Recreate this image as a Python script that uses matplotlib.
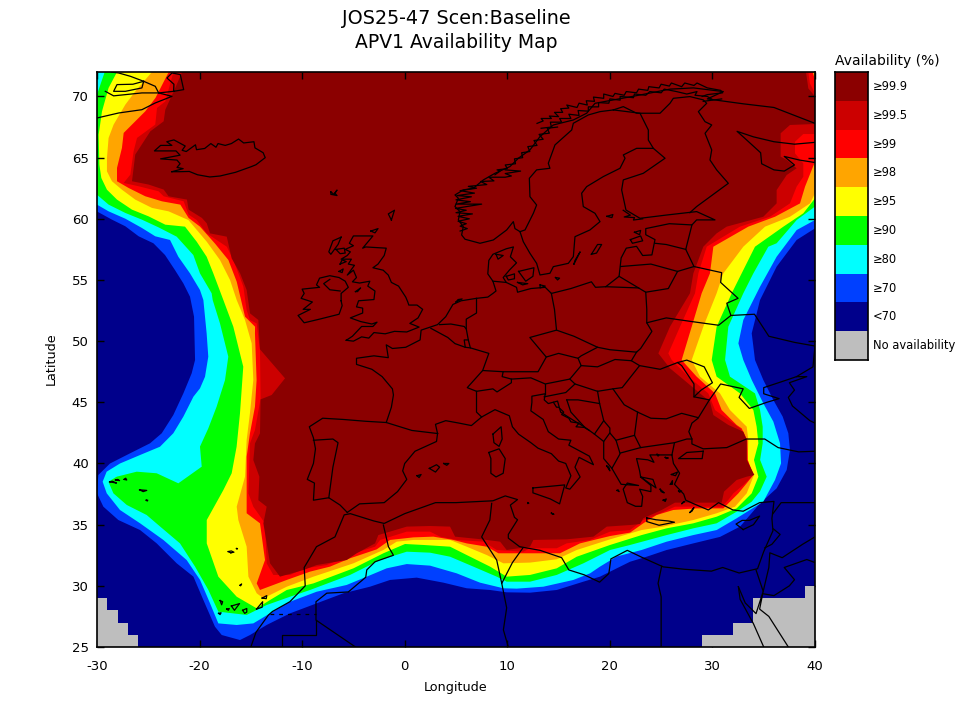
import matplotlib
matplotlib.use('Agg')
import matplotlib.pyplot as plt
from matplotlib.colors import ListedColormap
import numpy as np

plt.rcParams['axes.unicode_minus'] = False

# legend
legend_labels = ['≥99.9', '≥99.5', '≥99', '≥98', '≥95', '≥90', '≥80', '≥70', '<70', 'No availability']
legend_colors = ['#8b0000', '#cc0000', '#ff0000', '#ffa500', '#ffff00', '#00ff00', '#00ffff', '#0040ff', '#00008b', '#bebebe']

x_ticks = [-30, -20, -10, 0, 10, 20, 30, 40]
y_ticks = [25, 30, 35, 40, 45, 50, 55, 60, 65, 70]

# no availability cells, lon edges and top latitude
gray_sw_lon = [-30, -29, -28, -27, -26]
gray_sw_top = [29, 28, 27, 26, 26]
gray_se_lon = [29, 32, 34, 39, 40]
gray_se_top = [26, 27, 29, 30, 30]

bound_70 = [(-30, 60.6), (-28.54, 59.93), (-27.24, 59.39), (-25.94, 58.57), (-24.5, 58.0), (-23.37, 57.04), (-22.39, 55.8),
            (-21.58, 54.72), (-20.93, 53.63), (-20.54, 52.0), (-20.44, 48.46), (-20.77, 47.37), (-21.58, 45.73), (-22.56, 43.96),
            (-23.69, 42.47), (-24.83, 41.65), (-26.78, 40.83), (-28.73, 40.0), (-29.87, 39.06), (-30, 37.56), (-29.38, 36.47),
            (-27.92, 35.38), (-25.8, 34.56), (-24.18, 33.47), (-22.23, 31.84), (-20.6, 30.75), (-19.63, 28.84), (-18.5, 26.66),
            (-17.84, 25.98), (-16.06, 25.57), (-15.08, 25.98), (-13.46, 26.8), (-11.18, 27.75), (-8.58, 28.57), (-5.98, 29.39),
            (-3.38, 29.93), (-1.43, 30.48), (1.17, 30.67), (3.77, 30.26), (6.04, 29.8), (8.32, 29.66), (9.94, 29.47), (12.22, 29.44),
            (14.82, 29.66), (17.42, 30.34), (19.04, 30.75), (21.97, 31.97), (23.59, 32.38), (25.54, 32.93), (28.14, 33.47),
            (30.74, 34.0), (32.69, 34.84), (34.64, 36.74), (36.26, 37.97), (37.24, 39.47), (37.56, 41.1), (37.4, 42.47),
            (36.85, 43.83), (35.94, 45.19), (34.96, 46.83), (34.15, 48.46), (34.0, 49.5), (33.83, 50.64), (34.64, 53.36),
            (36.26, 56.09), (38.21, 58.27), (40, 59.22)]
bound_80 = [(-30, 61.16), (-28.87, 60.61), (-27.24, 60.01), (-25.62, 59.25), (-24.32, 58.57), (-22.88, 58.27), (-22.07, 56.9),
            (-20.93, 55.54), (-19.96, 54.18), (-19.63, 53.36), (-19.31, 50.63), (-19.15, 48.73), (-19.47, 47.09), (-19.96, 46.14),
            (-20.6, 45.46), (-21.58, 43.83), (-22.56, 42.47), (-23.86, 41.37), (-25.81, 40.69), (-27.76, 40.0), (-29.06, 39.33),
            (-29.45, 38.51), (-29.05, 37.56), (-27.76, 36.2), (-25.8, 35.11), (-23.53, 33.75), (-21.26, 32.11), (-19.95, 30.48),
            (-18.98, 28.57), (-18.17, 26.93), (-16.38, 26.8), (-14.76, 26.93), (-13.13, 27.75), (-11.18, 28.7), (-8.58, 29.52),
            (-5.66, 30.07), (-3.7, 30.75), (-1.76, 31.43), (0.2, 31.78), (2.47, 31.65), (5.07, 31.02), (7.34, 30.26), (9.62, 29.8),
            (10.92, 29.77), (13.52, 29.93), (16.44, 30.48), (18.07, 31.02), (19.04, 31.57), (20.67, 32.4), (23.1, 32.93),
            (25.54, 33.61), (28.14, 34.15), (30.41, 34.56), (32.36, 35.52), (34.96, 36.88), (36.1, 38.65), (36.69, 40.01),
            (36.59, 41.65), (35.94, 43.42), (34.96, 44.92), (33.83, 46.83), (33.01, 48.46), (32.53, 49.82), (33.01, 51.73),
            (34.64, 54.45), (36.26, 56.9), (38.21, 59.08), (40, 59.9)]
bound_90 = [(-29.25, 72), (-30, 70.15), (-30, 61.97), (-28.87, 61.16), (-27.24, 60.48), (-25.62, 59.93), (-24, 59.3), (-22.23, 58.54),
            (-20.61, 57.04), (-19.96, 55.54), (-18.82, 53.91), (-18.72, 53.36), (-18.01, 51.45), (-17.2, 48.73), (-17.52, 46.82),
            (-18.34, 44.64), (-19.15, 42.87), (-19.96, 41.38), (-19.79, 39.74), (-22.07, 38.38), (-24.18, 39.2), (-26.13, 39.33),
            (-28.08, 38.92), (-28.89, 38.51), (-28.4, 37.56), (-27.1, 36.61), (-25.16, 35.79), (-24.02, 34.97), (-21.91, 33.47),
            (-20.44, 31.57), (-19.14, 29.66), (-18.17, 27.89), (-15.41, 27.62), (-13.46, 28.43), (-11.18, 29.11), (-9.23, 29.66),
            (-5.33, 30.89), (-2.41, 32.11), (0.2, 32.79), (2.47, 32.71), (4.42, 32.38), (6.69, 31.57), (8.97, 30.75), (9.94, 30.34),
            (12.22, 30.34), (14.82, 30.89), (17.42, 31.84), (20.02, 32.93), (21.97, 33.34), (25.54, 34.15), (28.14, 34.7),
            (30.41, 35.11), (32.36, 36.06), (33.83, 36.88), (34.64, 37.72), (35.29, 38.92), (34.65, 40.29), (34.9, 41.65),
            (34.9, 43.01), (34.64, 44.37), (34.15, 45.73), (31.71, 47.1), (31.23, 48.46), (31.55, 51.18), (33.01, 53.91),
            (33.99, 55.54), (35.45, 57.72), (36.26, 58.0), (38.21, 59.9), (40, 61.0)]
bound_95 = [(-28.05, 72), (-28.87, 70.7), (-29.51, 68.79), (-29.84, 66.88), (-29.77, 64.43), (-29.58, 63.34), (-29.03, 62.38),
            (-28.05, 61.57), (-26.59, 60.75), (-24.97, 60.2), (-23.34, 59.52), (-21.42, 59.36), (-20.28, 58.13), (-19.31, 56.9),
            (-18.66, 55.54), (-17.68, 53.36), (-16.71, 51.18), (-15.74, 47.91), (-16.06, 44.1), (-16.39, 41.37), (-16.87, 39.2),
            (-17.68, 37.83), (-19.3, 35.38), (-19.3, 33.47), (-18.17, 30.75), (-16.38, 29.11), (-14.43, 28.16), (-13.13, 28.84),
            (-11.5, 29.66), (-8.9, 30.2), (-5.0, 31.43), (-2.08, 32.66), (0.03, 33.42), (1.82, 33.34), (4.42, 33.2), (6.04, 32.52),
            (8.32, 31.57), (9.94, 30.75), (12.22, 30.89), (14.82, 31.43), (16.77, 32.38), (20.02, 33.34), (23.1, 34.15),
            (25.54, 34.7), (28.14, 35.11), (30.41, 35.65), (32.36, 36.33), (32.85, 36.74), (33.83, 37.56), (34.48, 38.92),
            (34.05, 40.29), (34.48, 41.65), (34.31, 43.01), (33.99, 44.37), (32.69, 45.73), (30.41, 47.1), (29.93, 48.46),
            (30.41, 51.18), (31.88, 53.91), (32.85, 55.54), (34.15, 57.72), (36.92, 59.36), (38.86, 60.45), (40, 61.67)]
bound_98 = [(-24.64, 72), (-26.27, 70.42), (-27.24, 69.33), (-28.38, 67.7), (-28.87, 66.61), (-29.03, 64.97), (-29.03, 63.88),
            (-28.54, 63.07), (-27.57, 62.38), (-26.27, 61.57), (-24.64, 60.89), (-23.02, 60.61), (-21.09, 59.9), (-19.3, 58.13),
            (-18.01, 56.63), (-17.03, 55), (-16.38, 53.36), (-15.57, 51.73), (-14.92, 49.82), (-14.76, 46.82), (-15.09, 44.1),
            (-15.41, 41.92), (-15.57, 38.92), (-16.38, 36.47), (-16.22, 35.38), (-15.41, 33.2), (-15.24, 30.75), (-14.43, 29.39),
            (-13.78, 28.98), (-11.5, 29.93), (-8.9, 30.75), (-6.96, 31.29), (-5.0, 31.84), (-2.08, 32.93), (-0.78, 33.61),
            (0.84, 33.75), (4.42, 33.75), (6.04, 33.2), (7.99, 32.52), (9.62, 31.84), (12.22, 31.9), (14.82, 32.17), (16.77, 32.93),
            (20.02, 33.8), (23.1, 34.56), (25.21, 34.84), (28.14, 35.38), (30.41, 35.93), (32.2, 36.47), (33.34, 37.56),
            (34.05, 39.06), (33.44, 40.29), (33.5, 41.92), (33.34, 43.01), (31.71, 44.37), (30.74, 45.73), (28.79, 47.1),
            (27.98, 48.46), (29.11, 51.18), (30.41, 53.91), (31.06, 55.54), (33.01, 57.72), (35.13, 59.36), (37.56, 60.17),
            (39.51, 61.26), (40, 62.08), (40, 71.8), (39.9, 72)]
bound_99 = [(-23.01, 72), (-24.3, 69.88), (-25.29, 68.79), (-27.4, 67.02), (-27.57, 65.79), (-28.05, 64.16), (-28.05, 63.07),
            (-26.92, 62.52), (-25.29, 61.84), (-23.67, 61.43), (-21.88, 61.16), (-21.07, 60.07), (-19.96, 59.36), (-18.49, 57.97),
            (-17.19, 56.63), (-16.38, 54.86), (-15.57, 52.0), (-14.59, 51.18), (-14.6, 50.63), (-14.44, 46.82), (-14.6, 44.64),
            (-15.09, 42.46), (-15.41, 40.55), (-15.41, 35.93), (-14.11, 35.11), (-13.62, 32.11), (-14.43, 30.2), (-14.11, 29.66),
            (-11.5, 30.48), (-9.23, 31.16), (-7.28, 31.57), (-5.33, 32.25), (-2.73, 32.98), (-1.43, 33.75), (0.84, 33.96),
            (2.79, 34.02), (4.74, 33.75), (6.04, 33.47), (7.99, 33.2), (9.13, 32.66), (15.14, 32.66), (17.09, 33.47), (20.02, 34.07),
            (21.97, 34.35), (23.26, 35.11), (24.57, 35.79), (26.19, 36.2), (28.46, 36.33), (31.06, 36.33), (32.53, 37.56),
            (33.34, 38.38), (33.99, 39.06), (33.44, 40.29), (33.4, 41.92), (32.85, 42.87), (32.36, 43.15), (30.9, 44.37),
            (30.25, 45.73), (28.46, 47.1), (27.0, 48.46), (27.98, 51.18), (28.95, 53.91), (29.76, 55.54), (30.09, 57.72),
            (33.5, 59.36), (36.1, 60.17), (38.54, 61.26), (39.03, 62.63), (40, 64.67), (40, 71.35), (39.77, 72)]
bound_995 = [(-22.55, 72), (-23.34, 69.6), (-24.15, 69.06), (-24.32, 67.7), (-26.1, 66.61), (-26.43, 65.52), (-26.75, 63.61),
             (-27.4, 62.93), (-25.94, 62.66), (-24.0, 62.25), (-23.5, 61.84), (-21.55, 61.43), (-21.07, 60.34), (-20.28, 59.9),
             (-19.3, 58.81), (-17.35, 57.72), (-16.7, 56.63), (-15.73, 54.45), (-15.41, 52.54), (-15.09, 51.73), (-14.44, 51.45),
             (-14.11, 49.27), (-14.05, 45.3), (-14.6, 42.73), (-15.09, 41.64), (-15.15, 39.74), (-15.24, 37.56), (-14.76, 36.47),
             (-13.62, 35.11), (-13.46, 31.84), (-12.81, 30.89), (-11.18, 30.89), (-9.72, 31.43), (-7.6, 31.7), (-5.0, 32.66),
             (-2.89, 33.2), (-2.4, 33.75), (0.2, 34.43), (2.47, 34.43), (3.45, 34.02), (5.07, 33.75), (7.67, 33.61), (8.97, 32.93),
             (11.57, 32.79), (12.22, 33.07), (14.82, 33.07), (15.79, 33.47), (18.07, 33.75), (20.02, 34.43), (21.97, 34.56),
             (23.26, 35.38), (25.05, 35.98), (26.35, 36.47), (30.9, 36.47), (31.55, 37.02), (32.04, 37.56), (33.01, 38.24),
             (33.99, 39.06), (33.37, 40.29), (33.37, 41.92), (32.69, 42.87), (32.04, 43.28), (30.25, 44.37), (29.6, 45.73),
             (27.65, 47.1), (26.03, 48.46), (25.7, 49.0), (26.84, 51.18), (28.3, 53.91), (28.63, 55.54), (29.44, 57.72),
             (32.69, 59.36), (35.61, 60.17), (37.56, 61.26), (38.21, 62.63), (38.86, 63.44), (38.86, 64.53), (38.05, 65.35),
             (38.05, 66.3), (38.86, 66.93), (40, 66.93), (40, 70.26), (39.5, 71.07), (39.35, 72)]
bound_999 = [(-21.7, 72), (-22.37, 70.7), (-23.34, 68.92), (-23.5, 67.97), (-24.8, 67.15), (-26.27, 65.25), (-26.59, 63.07),
             (-24.97, 62.8), (-23.5, 62.39), (-23.02, 61.84), (-21.23, 61.57), (-21.07, 60.75), (-19.77, 60.07), (-19.3, 59.63),
             (-18.98, 58.81), (-17.35, 58.54), (-16.87, 56.77), (-16.05, 55.54), (-15.41, 54.18), (-15.08, 52.27), (-14.27, 51.73),
             (-14.11, 49.33), (-11.67, 46.96), (-12.97, 45.6), (-14.05, 45.24), (-14.11, 42.46), (-14.6, 41.64), (-14.76, 40.28),
             (-14.17, 38.92), (-14.27, 37.0), (-13.46, 36.47), (-13.78, 35.11), (-13.13, 31.84), (-12.16, 30.75), (-9.88, 31.29),
             (-8.58, 31.7), (-5.66, 32.11), (-4.68, 32.66), (-2.89, 33.47), (-2.57, 34.15), (0.2, 34.84), (2.47, 34.89), (4.42, 34.84),
             (4.91, 34.02), (7.51, 33.8), (9.3, 33.61), (9.94, 32.93), (12.22, 33.2), (12.54, 33.75), (15.79, 33.8), (18.4, 34.02),
             (19.7, 34.84), (21.97, 34.97), (22.94, 35.05), (23.26, 35.52), (25.05, 36.2), (26.35, 36.8), (30.9, 36.8), (31.13, 37.7),
             (32.36, 38.65), (33.34, 38.92), (34.09, 39.06), (33.34, 40.29), (33.34, 41.92), (33.01, 42.6), (31.55, 43.15),
             (30.09, 43.96), (29.76, 45.05), (28.79, 45.73), (26.84, 47.1), (25.86, 47.78), (24.73, 49.0), (25.86, 51.18),
             (27.81, 53.91), (28.14, 55.54), (29.11, 57.72), (30.41, 58.81), (31.39, 59.36), (34.96, 60.17), (36.26, 61.26),
             (36.26, 62.35), (37.24, 63.58), (38.21, 64.13), (37.24, 64.81), (36.65, 65.08), (36.65, 66.99), (37.56, 67.67),
             (40, 67.75), (40, 70.0), (39.35, 70.66), (39.12, 72)]

# coastlines
greenland = [(-30, 68.24), (-27.89, 68.65), (-25.62, 68.92), (-24.32, 69.47), (-22.69, 70.01), (-23.99, 70.29), (-24.32, 70.83), (-25.45, 71.24), (-26.75, 71.65), (-27.89, 71.92), (-28.6, 72)]
greenland_f1 = [(-25.45, 71.24), (-25.62, 70.7), (-27.24, 70.42), (-28.38, 70.42), (-28.05, 70.97), (-26.5, 71.0), (-25.45, 71.24)]
greenland_f2 = [(-29.19, 70.42), (-28.38, 70.05), (-25.62, 70.29), (-23.99, 70.29)]
greenland_e = [(-23.99, 70.29), (-22.53, 70.42), (-21.55, 70.56), (-21.88, 71.79), (-22.69, 71.92), (-23.18, 71.51), (-22.5, 71.0), (-22.53, 70.42)]
iceland = [(-22.7, 63.85), (-22.0, 63.85), (-21.0, 63.87), (-20.2, 63.6), (-19.0, 63.42), (-18.0, 63.5), (-16.5, 63.8), (-15.0, 64.25), (-14.5, 64.42), (-13.6, 65.0), (-13.8, 65.4), (-14.6, 65.8), (-14.7, 66.3), (-15.7, 66.2), (-16.2, 66.52), (-16.9, 66.15), (-17.5, 66.0), (-18.2, 66.15), (-18.4, 65.85), (-18.9, 66.15), (-19.5, 65.75), (-20.3, 65.65), (-20.4, 66.05), (-21.3, 65.5), (-21.7, 65.6), (-21.4, 65.95), (-22.5, 66.45), (-23.2, 66.3), (-22.7, 66.0), (-23.8, 66.0), (-24.4, 65.55), (-22.3, 65.55), (-21.9, 65.2), (-23.8, 64.9), (-22.2, 64.8), (-21.9, 64.5), (-22.2, 64.2), (-21.6, 64.1), (-22.7, 63.85)]
faroe = [(-7.2, 62.2), (-6.9, 62.0), (-6.6, 62.35), (-6.8, 62.1), (-6.6, 61.9), (-7.2, 62.0), (-7.2, 62.2)]
shetland = [(-1.3, 59.9), (-1.0, 60.7), (-1.6, 60.4), (-1.3, 59.9)]
orkney = [(-3.3, 59.0), (-2.6, 59.2), (-2.9, 58.85), (-3.3, 59.0)]
britain = [(-5.7, 50.07), (-5.0, 50.0), (-4.2, 50.35), (-3.5, 50.25), (-3.0, 50.7), (-1.9, 50.6), (-1.0, 50.8), (0.2, 50.75), (1.4, 51.15), (0.5, 51.45), (1.3, 51.9), (1.75, 52.6), (1.2, 52.95), (0.4, 52.95), (0.3, 53.2), (0.1, 53.6), (-0.6, 54.5), (-1.3, 54.8), (-1.6, 55.4), (-2.1, 55.8), (-3.1, 56.0), (-2.6, 56.3), (-2.0, 57.0), (-1.8, 57.6), (-3.8, 57.7), (-4.1, 57.6), (-3.1, 58.6), (-5.0, 58.6), (-5.4, 58.0), (-5.0, 57.8), (-5.8, 57.5), (-5.3, 57.3), (-5.6, 57.0), (-6.2, 56.7), (-5.2, 56.7), (-5.5, 56.3), (-4.9, 56.2), (-5.6, 55.4), (-5.0, 55.8), (-4.7, 55.2), (-5.1, 54.85), (-4.4, 54.75), (-3.4, 54.9), (-3.6, 54.5), (-2.9, 54.1), (-3.0, 53.4), (-4.5, 53.3), (-4.7, 52.8), (-4.1, 52.7), (-4.1, 52.3), (-5.3, 51.9), (-4.3, 51.6), (-3.2, 51.4), (-2.7, 51.55), (-3.1, 51.2), (-4.2, 51.2), (-5.1, 50.4), (-5.7, 50.07)]
ireland = [(-6.2, 53.3), (-6.2, 53.9), (-5.5, 54.4), (-5.8, 54.9), (-6.4, 55.2), (-7.3, 55.35), (-8.3, 55.15), (-8.6, 54.6), (-8.3, 54.4), (-10.0, 54.25), (-9.8, 53.9), (-10.1, 53.5), (-9.0, 53.2), (-9.9, 52.6), (-9.2, 52.6), (-10.4, 52.1), (-9.8, 51.5), (-8.3, 51.8), (-6.4, 52.2), (-6.1, 52.9), (-6.2, 53.3)]
n_ireland = [(-7.3, 55.05), (-7.9, 54.7), (-7.3, 54.2), (-6.3, 54.1)]
lewis = [(-6.2, 58.5), (-7.0, 58.2), (-7.4, 57.3), (-7.2, 57.1), (-6.5, 57.9), (-6.2, 58.5)]
skye = [(-6.7, 57.5), (-5.9, 57.6), (-5.8, 57.2), (-6.3, 57.15), (-6.7, 57.5)]
mull = [(-6.3, 56.3), (-5.7, 56.5), (-6.1, 56.65), (-6.3, 56.3)]
islay = [(-6.4, 55.7), (-6.0, 55.9), (-6.1, 55.6), (-6.4, 55.7)]
man = [(-4.8, 54.05), (-4.3, 54.35), (-4.6, 54.05), (-4.8, 54.05)]
continent_west = [(-5.6, 36.0), (-6.3, 36.6), (-7.4, 37.2), (-8.9, 37.0), (-8.8, 38.4), (-9.5, 38.7), (-8.9, 40.0), (-8.7, 41.2), (-8.9, 42.1), (-9.3, 43.0), (-8.0, 43.7), (-6.0, 43.6), (-3.8, 43.45), (-1.8, 43.35), (-1.3, 44.6), (-1.1, 45.6), (-1.2, 46.1), (-2.2, 47.1), (-3.2, 47.7), (-4.7, 48.1), (-4.7, 48.6), (-3.0, 48.8), (-1.6, 48.65), (-1.8, 49.7), (-1.2, 49.4), (0.1, 49.5), (1.5, 50.1), (1.6, 50.9), (3.2, 51.35), (4.0, 52.0), (4.7, 53.0), (5.5, 53.3), (7.0, 53.5), (8.1, 53.6), (8.6, 53.9), (8.9, 54.1), (8.6, 54.9), (8.1, 55.5), (8.2, 56.6), (8.6, 57.1), (9.9, 57.55), (10.6, 57.7), (10.3, 56.9), (10.9, 56.4), (10.2, 55.8), (9.6, 55.2), (9.9, 54.8), (10.9, 54.4), (11.0, 54.0), (12.3, 54.3), (13.7, 54.4), (14.3, 53.9), (16.2, 54.3), (18.2, 54.85), (18.6, 54.4), (19.6, 54.45), (20.9, 55.3), (21.1, 56.8), (21.6, 57.6), (22.6, 57.75), (23.2, 57.0), (24.1, 57.05), (24.4, 58.3), (23.5, 58.7), (23.5, 59.2), (25.8, 59.6), (28.0, 59.5), (28.46, 59.91), (30.25, 59.91), (28.46, 60.59), (25.54, 60.31), (22.94, 60.04), (21.57, 60.72), (21.15, 62.36), (21.31, 63.18), (23.26, 63.72), (25.38, 64.95), (24.24, 65.76), (22.61, 65.76), (21.31, 65.22), (21.48, 64.95), (20.99, 64.13), (19.36, 63.45), (17.74, 62.63), (17.25, 62.09), (17.41, 61.0), (18.55, 60.45), (19.04, 59.77), (18.06, 59.09), (16.6, 58.54), (16.44, 56.91), (15.95, 56.36), (14.49, 56.09), (14.16, 55.55), (13.19, 55.41), (12.86, 56.36), (12.21, 57.18), (11.56, 58.13), (11.24, 58.95), (10.75, 59.2), (10.59, 59.77), (9.94, 59.09), (8.64, 58.27), (7.34, 58.0), (5.88, 58.33), (5.55, 58.68), (5.71, 59.36), (5.23, 59.91), (5.39, 60.59), (4.9, 61.0), (5.23, 61.68), (4.9, 61.95), (5.71, 62.36), (6.69, 62.5), (7.67, 63.18), (8.8, 63.72), (10.26, 64.27), (11.08, 64.95), (12.21, 65.63), (13.19, 66.72), (14.49, 67.67), (16.44, 68.08), (17.74, 68.63), (18.55, 69.44), (20.34, 69.72), (22.94, 70.12), (25.86, 70.6), (28.14, 70.7), (31.06, 70.4), (29.5, 69.8), (33.0, 69.4), (36.0, 69.1), (40, 67.8)]
norway_west_spikes = [(5.4, 59.0), (6.1, 59.2), (5.4, 59.4), (6.0, 59.6), (5.2, 59.8), (6.3, 60.0), (5.2, 60.2), (6.6, 60.4), (5.0, 60.5), (6.0, 60.7), (4.95, 60.85), (7.5, 61.2), (5.0, 61.2), (6.4, 61.4), (5.0, 61.55), (6.5, 61.8), (5.1, 61.9), (6.8, 62.1), (5.4, 62.3), (7.0, 62.5), (6.2, 62.65), (8.0, 62.8), (7.4, 63.05), (8.7, 63.1), (8.2, 63.4), (9.8, 63.4), (10.4, 63.5), (9.8, 63.7), (11.3, 63.9), (9.8, 64.0)]
norway_mid_spikes = [(8.8, 63.6), (9.3, 63.9), (9.0, 64.0), (10.0, 64.1), (9.8, 64.4), (10.8, 64.5), (10.7, 64.9), (11.5, 65.0), (11.4, 65.4), (12.2, 65.5), (12.0, 65.9), (12.9, 66.0), (12.6, 66.4), (13.5, 66.5), (13.1, 66.9), (14.1, 67.0), (13.9, 67.4), (14.9, 67.5)]
norway_outer = [(12.9, 67.8), (13.5, 68.0), (13.3, 68.2), (14.3, 68.2), (14.1, 68.4), (15.0, 68.35), (14.6, 68.7), (15.4, 68.7), (15.2, 69.0), (16.0, 69.05), (15.8, 69.3), (16.8, 69.1), (17.0, 69.45), (17.8, 69.3), (17.7, 69.65), (18.5, 69.6), (18.4, 69.95), (19.4, 69.85), (19.4, 70.2), (20.3, 70.0), (20.5, 70.25), (21.4, 70.1), (21.6, 70.4), (22.6, 70.3), (22.8, 70.6), (23.7, 70.5), (23.8, 70.8), (24.8, 70.7), (25.0, 71.0), (25.8, 70.85), (26.0, 71.1), (27.0, 70.8), (27.3, 71.1), (28.2, 70.9), (28.5, 71.1), (29.5, 70.7), (30.8, 70.5), (31.0, 70.3), (29.5, 70.15), (29.0, 70.0)]
norway_inner = [(13.3, 67.4), (14.3, 67.5), (14.2, 67.9), (15.3, 67.9), (15.1, 68.2), (16.2, 68.2), (16.0, 68.55), (17.0, 68.45), (16.9, 68.85), (17.9, 68.8), (17.9, 69.15), (18.9, 69.15), (18.9, 69.5), (19.9, 69.45), (20.0, 69.8), (21.0, 69.7), (21.0, 70.0), (22.3, 69.9), (22.4, 70.2), (23.5, 70.1), (23.9, 70.4), (25.0, 70.3), (25.3, 70.6), (26.5, 70.4), (27.5, 70.2), (28.5, 70.4), (28.3, 70.1), (29.5, 70.0), (30.0, 69.75)]
finland_skerries = [(21.3, 60.7), (22.0, 60.3), (21.4, 60.15), (22.4, 60.1), (22.3, 59.9), (23.2, 60.0)]
dalmatia_spikes = [(14.5, 45.0), (14.8, 44.6), (15.0, 44.6), (15.5, 44.2), (15.3, 44.0), (16.0, 43.7), (16.2, 43.4), (17.0, 43.3), (16.7, 43.0), (17.5, 42.95), (18.0, 42.7)]
kola_south = [(40, 66.25), (38.0, 66.1), (36.0, 66.3), (34.0, 66.7), (32.4, 67.15), (33.0, 66.7), (34.7, 65.4), (34.8, 64.5), (36.0, 64.0), (37.0, 63.9), (38.0, 64.4), (37.0, 65.1), (38.5, 64.8), (40, 64.6)]
turkey_coast = [(40, 41.0), (38.4, 40.95), (36.4, 41.3), (35.1, 42.0), (33.3, 42.0), (31.4, 41.3), (29.1, 41.2), (28.0, 41.6), (28.0, 42.0), (27.7, 42.6), (28.0, 43.3), (28.6, 43.7), (29.7, 45.2), (30.8, 46.5), (33.0, 46.1), (32.6, 45.4), (33.6, 44.5), (35.3, 45.0), (36.5, 45.3), (35.0, 45.7), (35.0, 46.2), (36.8, 46.7), (38.2, 47.1), (39.2, 47.1), (37.5, 46.6), (38.0, 46.0), (37.4, 45.4), (37.8, 44.7), (39.5, 43.5), (40, 43.3)]
marmara = [(29.1, 41.0), (27.5, 40.9), (26.7, 40.4), (29.0, 40.4), (29.1, 41.0)]
africa = [(-15.0, 25.0), (-14.5, 26.2), (-13.3, 27.6), (-12.9, 27.9), (-11.2, 28.7), (-9.7, 30.0), (-9.8, 31.5), (-8.6, 33.2), (-6.8, 34.0), (-5.9, 35.8), (-5.3, 35.9), (-3.0, 35.3), (-2.0, 35.1), (0.0, 35.9), (3.0, 36.8), (5.0, 36.8), (8.6, 36.95), (9.8, 37.35), (11.0, 37.05), (10.3, 36.6), (10.7, 35.6), (11.0, 35.4), (10.1, 34.2), (10.1, 33.9), (11.2, 33.2), (13.2, 32.9), (15.3, 32.3), (16.0, 31.3), (17.5, 30.9), (19.0, 30.3), (19.9, 31.0), (20.1, 32.2), (21.7, 32.9), (23.2, 32.3), (25.2, 31.55), (27.3, 31.35), (29.9, 31.2), (31.0, 31.5), (32.6, 31.05), (34.4, 31.4), (35.0, 32.8), (35.9, 34.5), (35.8, 35.5), (36.0, 36.9), (34.6, 36.8), (33.0, 36.1), (32.0, 36.2), (30.6, 36.8), (29.6, 36.2), (28.2, 36.7), (27.4, 37.0), (27.2, 37.5), (26.3, 38.3), (26.8, 39.2), (26.2, 40.0), (26.05, 40.7)]
med_north = [(3.2, 42.45), (3.0, 43.2), (4.0, 43.5), (5.3, 43.3), (6.5, 43.1), (7.5, 43.8), (8.8, 44.4), (10.2, 43.9), (10.5, 43.0), (11.1, 42.4), (12.3, 41.7), (13.0, 41.25), (14.3, 40.8), (15.0, 40.2), (15.7, 40.0), (16.2, 39.0), (15.7, 38.0), (16.1, 37.9), (17.1, 38.9), (16.6, 39.7), (17.0, 40.5), (18.4, 39.9), (18.0, 40.6), (16.0, 41.5), (16.2, 41.9), (15.0, 42.0), (14.0, 42.6), (13.5, 43.6), (12.3, 44.3), (12.4, 45.0), (12.4, 45.5), (13.7, 45.7), (13.6, 45.2), (14.0, 44.9), (14.9, 45.1), (15.2, 44.2), (16.5, 43.5), (17.5, 43.0), (18.5, 42.4), (19.4, 41.8), (19.4, 40.4), (20.2, 39.6), (21.1, 38.3), (22.8, 38.2), (21.7, 38.4), (21.3, 37.9), (21.7, 36.8), (22.5, 36.5), (23.1, 36.5), (23.2, 37.3), (22.9, 37.9), (24.0, 37.7), (24.0, 38.2), (23.0, 38.9), (22.9, 39.4), (22.6, 40.4), (23.7, 40.3), (24.3, 40.1), (23.9, 40.7), (26.05, 40.7)]
spain_east = [(3.2, 42.45), (3.1, 41.8), (1.0, 41.0), (0.0, 40.0), (-0.2, 39.4), (0.2, 38.7), (-0.7, 37.7), (-2.0, 36.8), (-4.4, 36.7), (-5.6, 36.0)]
islands = [[(23.6, 35.55), (24.5, 35.4), (25.7, 35.3), (26.3, 35.2), (24.8, 34.95), (23.6, 35.25), (23.6, 35.55)],
           [(27.8, 36.0), (28.2, 36.4), (28.0, 36.1), (27.8, 36.0)], [(26.0, 39.1), (26.6, 39.3), (26.4, 39.0), (26.0, 39.1)], [(25.9, 38.3), (26.1, 38.6), (26.1, 38.3), (25.9, 38.3)],
           [(23.0, 38.9), (24.5, 38.0), (24.2, 38.7), (23.0, 38.9)], [(20.7, 37.8), (20.9, 37.7), (20.8, 37.85), (20.7, 37.8)], [(19.7, 39.8), (20.0, 39.4), (19.9, 39.7), (19.7, 39.8)],
           [(25.2, 37.0), (25.5, 37.1), (25.4, 36.9), (25.2, 37.0)], [(24.9, 37.9), (25.3, 37.6), (25.0, 37.7), (24.9, 37.9)], [(27.1, 36.8), (27.3, 36.9), (27.0, 36.7), (27.1, 36.8)],
           [(25.4, 40.5), (25.7, 40.45), (25.5, 40.4), (25.4, 40.5)], [(24.6, 40.75), (24.8, 40.7), (24.7, 40.6), (24.6, 40.75)], [(26.7, 37.75), (27.0, 37.75), (26.8, 37.65), (26.7, 37.75)],
           [(12.5, 38.0), (15.6, 38.25), (15.1, 36.7), (14.2, 37.1), (12.5, 37.6), (12.5, 38.0)], [(8.2, 40.9), (9.2, 41.2), (9.8, 40.4), (9.6, 39.2), (8.9, 38.9), (8.4, 39.2), (8.4, 40.4), (8.2, 40.9)],
           [(8.6, 42.4), (9.4, 43.0), (9.5, 42.0), (9.2, 41.4), (8.7, 41.7), (8.6, 42.4)], [(2.4, 39.6), (3.1, 39.9), (3.4, 39.7), (3.0, 39.3), (2.4, 39.6)], [(3.8, 40.0), (4.3, 40.0), (4.1, 39.85), (3.8, 40.0)],
           [(1.2, 39.0), (1.6, 39.1), (1.4, 38.85), (1.2, 39.0)], [(14.3, 35.95), (14.55, 35.85), (14.4, 35.85), (14.3, 35.95)], [(12.0, 36.8), (12.1, 36.75), (12.0, 36.72), (12.0, 36.8)],
           [(33.0, 34.6), (34.0, 35.0), (34.6, 35.7), (33.6, 35.35), (32.9, 35.35), (32.3, 35.05), (33.0, 34.6)],
           [(-28.75, 38.5), (-28.1, 38.4), (-28.5, 38.55), (-28.75, 38.5)], [(-28.2, 38.65), (-27.8, 38.6), (-28.0, 38.7), (-28.2, 38.65)], [(-27.35, 38.7), (-27.1, 38.65), (-27.2, 38.8), (-27.35, 38.7)],
           [(-25.85, 37.85), (-25.15, 37.8), (-25.5, 37.7), (-25.85, 37.85)], [(-25.2, 37.0), (-25.05, 37.0), (-25.1, 36.93), (-25.2, 37.0)],
           [(-16.95, 32.7), (-16.65, 32.75), (-16.9, 32.85), (-17.25, 32.8), (-16.95, 32.7)], [(-16.4, 33.05), (-16.3, 33.05), (-16.35, 33.0), (-16.4, 33.05)], [(-16.05, 30.05), (-15.9, 30.15), (-16.0, 30.0), (-16.05, 30.05)],
           [(-16.9, 28.35), (-16.1, 28.55), (-16.6, 28.0), (-16.9, 28.35)], [(-15.8, 28.0), (-15.4, 28.15), (-15.4, 27.85), (-15.6, 27.75), (-15.8, 28.0)], [(-18.0, 28.8), (-17.75, 28.7), (-17.85, 28.45), (-18.0, 28.8)],
           [(-18.15, 27.75), (-17.9, 27.8), (-18.0, 27.65), (-18.15, 27.75)], [(-17.35, 28.1), (-17.1, 28.15), (-17.2, 28.0), (-17.35, 28.1)], [(-13.9, 29.0), (-13.45, 29.2), (-13.5, 28.95), (-13.9, 29.0)],
           [(-14.45, 28.1), (-13.85, 28.7), (-13.9, 28.25), (-14.45, 28.1)],
           [(18.2, 57.1), (18.8, 57.9), (19.2, 57.9), (18.7, 57.2), (18.2, 57.1)], [(16.5, 56.3), (17.1, 57.3), (16.6, 56.6), (16.5, 56.3)], [(22.0, 58.3), (23.0, 58.6), (23.2, 58.2), (22.2, 58.0), (22.0, 58.3)],
           [(22.4, 58.9), (23.0, 59.05), (22.9, 58.7), (22.4, 58.9)], [(19.7, 60.2), (20.3, 60.35), (20.2, 60.1), (19.7, 60.2)], [(14.7, 55.2), (15.1, 55.15), (14.9, 55.0), (14.7, 55.2)],
           [(11.1, 55.7), (12.6, 56.0), (12.5, 55.3), (11.8, 54.9), (11.1, 55.7)], [(9.9, 55.3), (10.7, 55.5), (10.7, 55.1), (10.1, 55.0), (9.9, 55.3)], [(11.0, 54.8), (12.0, 54.7), (11.5, 54.6), (11.0, 54.8)],
           [(8.9, 57.1), (9.6, 57.0), (9.1, 56.7), (8.9, 57.1)], [(13.2, 54.6), (13.7, 54.5), (13.2, 54.35), (13.2, 54.6)], [(5.0, 53.2), (5.6, 53.45), (5.2, 53.4), (5.0, 53.2)]]

# borders
borders = [[(-1.8, 43.35), (0.7, 42.7), (3.2, 42.45)], [(-8.9, 41.9), (-7, 42), (-6.5, 41.7), (-7.0, 39.7), (-7.4, 37.2)],
           [(8.6, 54.9), (9.9, 54.8)], [(2.55, 51.05), (4.2, 50.3), (4.9, 49.8), (5.9, 49.5), (6.4, 49.45), (8.2, 49.0), (7.6, 47.6), (6.1, 46.2), (7.0, 45.9), (7.0, 44.2), (7.5, 43.8)],
           [(7.0, 45.9), (8.6, 46.1), (9.0, 45.85), (10.4, 46.6), (10.4, 46.9), (9.5, 47.1), (9.6, 47.5), (7.6, 47.6)], [(6.4, 49.45), (6.2, 50.1), (6.0, 51.0), (6.0, 51.8), (7.0, 52.3), (7.0, 53.5)],
           [(3.4, 51.35), (4.5, 51.4), (5.8, 51.2), (6.0, 51.0)], [(5.9, 49.5), (5.8, 50.1), (6.2, 50.1)],
           [(14.3, 53.9), (14.6, 52.6), (14.8, 50.9), (16.5, 50.4), (18.8, 49.5), (20.0, 49.3), (22.6, 49.1), (23.0, 49.4), (24.1, 50.8), (23.6, 51.5), (23.6, 52.6), (23.5, 54.0), (22.8, 54.35), (19.6, 54.45)],
           [(14.8, 50.9), (12.2, 50.3), (13.8, 48.7), (15, 49), (16.9, 48.6), (17.2, 48.8), (18.8, 49.5)], [(13.8, 48.7), (13.0, 47.5), (10.5, 47.5), (9.6, 47.5)],
           [(10.4, 46.9), (12.3, 47.0), (13.7, 46.5), (16.1, 46.9), (17.2, 48.0), (16.9, 48.6)], [(13.7, 46.5), (13.7, 45.7)], [(13.6, 45.45), (15.7, 45.8), (16.6, 46.5)],
           [(17.2, 48.0), (18.8, 47.9), (20.5, 48.5), (22.1, 48.4), (22.6, 49.1)], [(16.1, 46.9), (16.6, 46.5), (18.8, 45.9), (20.3, 46.1), (21.2, 46.2), (22.9, 48.0), (22.1, 48.4)],
           [(22.9, 48.0), (24.9, 47.7), (26.6, 48.25), (27.5, 48.45), (29.2, 47.9), (30.0, 46.6), (28.9, 46.0), (28.2, 45.45), (29.7, 45.2)], [(26.6, 48.25), (27.0, 48.0), (28.2, 46.5), (28.2, 45.45)],
           [(20.3, 46.1), (21.4, 44.8), (22.7, 44.2), (24, 43.7), (25.5, 43.65), (27.0, 44.1), (28.6, 43.75)], [(22.7, 44.2), (22.4, 42.3), (23, 41.3), (26.3, 41.7), (27.5, 42), (28.0, 42.0)], [(26.05, 40.7), (26.3, 41.7)],
           [(21, 40.85), (23, 41.3)], [(19.4, 41.8), (20.0, 42.5), (20.6, 41.9), (21.0, 40.8), (20.2, 39.6)], [(20.6, 41.9), (22.4, 42.3)],
           [(15.8, 45.2), (16.9, 45.2), (19.0, 44.9), (19.4, 43.5), (18.5, 42.4)], [(17.5, 43.0), (16.2, 44.2), (15.8, 45.2)], [(18.8, 45.9), (19.0, 44.9)], [(19.4, 43.5), (20.0, 42.9), (20.0, 42.5)],
           [(24.4, 58.0), (25.5, 57.9), (27.4, 57.5)], [(21.05, 56.1), (24.0, 56.3), (26.6, 55.7)], [(20.9, 55.3), (22.8, 54.35)], [(28.0, 59.5), (27.4, 57.5), (28.2, 56.1), (26.6, 55.7), (25.7, 54.3), (23.5, 54.0)],
           [(28.2, 56.1), (30.9, 55.6), (30.8, 54.8), (32.5, 53.5), (31.4, 53.1), (31.8, 52.1)], [(23.6, 51.5), (25.5, 51.9), (28.0, 51.6), (30.6, 51.3), (31.8, 52.1), (34.1, 52.2), (35.5, 50.4), (38.0, 49.9), (40, 49.6)], [(38.2, 47.1), (39.8, 47.9), (40, 49.6)],
           [(20.34, 68.9), (21.31, 69.17), (22.61, 68.63), (23.91, 68.63), (24.89, 68.63), (25.86, 69.44), (26.19, 69.85), (27.81, 69.99), (29.11, 69.72), (29.44, 69.44), (28.63, 68.76), (29.28, 67.94), (29.93, 67.67), (29.28, 66.99), (29.93, 65.63), (29.76, 64.81), (30.41, 64.0), (31.55, 62.9), (28.46, 61.0), (27.8, 60.5)],
           [(20.34, 68.9), (22.94, 68.63), (23.75, 67.26), (23.75, 66.44), (24.24, 65.76)],
           [(20.34, 68.9), (19.04, 68.76), (17.9, 68.49), (16.44, 67.81), (16.28, 67.26), (14.65, 66.04), (14.0, 64.54), (14.16, 64.13), (12.86, 64.0), (12.15, 63.31), (12.21, 61.81), (12.86, 61.13), (12.54, 60.45), (11.73, 59.09), (11.24, 58.95)],
           [(29.1, 69.6), (30.9, 69.8)],
           [(-2.08, 34.97), (-1.59, 33.2), (-1.1, 32.5), (-2.89, 31.97), (-3.7, 31.3), (-3.8, 30.7), (-5.5, 29.5), (-7.6, 29.4), (-8.65, 28.7), (-8.65, 27.2), (-4.8, 25.0)], [(-8.65, 27.2), (-8.65, 25.95), (-12.0, 25.95), (-12.0, 25)],
           [(8.48, 36.74), (8.3, 35.38), (7.5, 34.0), (8.97, 32.1), (9.46, 30.2), (9.94, 28.2), (9.62, 26.4), (10.1, 25)], [(9.46, 30.2), (10.5, 31.9), (11.5, 33.07)], [(25.05, 31.6), (24.7, 30.2), (25, 29.1), (25, 25)],
           [(34.25, 31.3), (34.95, 29.55), (35.5, 31.5), (35.6, 32.7), (36.8, 32.3), (38.8, 33.4), (40, 34.0)], [(35.1, 33.1), (35.8, 33.4), (36.6, 34.2), (35.95, 34.65)], [(35.9, 35.9), (36.7, 36.8), (38, 36.8), (40, 36.8)],
           [(34.95, 29.35), (36, 29.2), (37.5, 30.0), (38, 30.5), (37, 31.5), (39.2, 32.15), (40, 31.9)]]
sinai_red_sea = [(32.53, 29.93), (33.2, 28.6), (34.25, 27.73), (34.95, 29.55), (34.6, 28.1), (35.5, 27.5), (37.4, 25)]
red_sea_west = [(32.53, 29.93), (32.7, 28.9), (34.0, 26.9), (35, 25)]
western_sahara_north = [(-13.1, 27.67), (-8.65, 27.67)]

coast_lines = [greenland, greenland_f1, greenland_f2, greenland_e, iceland, faroe, shetland, orkney, britain, ireland, n_ireland,
               lewis, skye, mull, islay, man, continent_west, norway_west_spikes, norway_mid_spikes, norway_outer, norway_inner,
               finland_skerries, dalmatia_spikes, kola_south, turkey_coast, marmara, africa, med_north, spain_east,
               sinai_red_sea, red_sea_west]

fig = plt.figure(figsize=(9.6, 7.2), dpi=100)
ax = fig.add_axes([97 / 960, 1 - 647 / 720, 718 / 960, 575 / 720])

ax.set_facecolor(legend_colors[8])
levels = [(bound_70, 7), (bound_80, 6), (bound_90, 5), (bound_95, 4), (bound_98, 3), (bound_99, 2), (bound_995, 1), (bound_999, 0)]
for bound, ci in levels:
    pts = list(bound)
    # the region lies north of the contour, close it along the map edge
    if pts[-1][1] != 72:
        pts.append((40, 72))
    if pts[0][1] != 72:
        pts.append((-30, 72))
    lon, lat = zip(*pts)
    ax.fill(lon, lat, color=legend_colors[ci], lw=0, zorder=1)

ax.fill_between(gray_sw_lon, 25, gray_sw_top, step='post', color=legend_colors[9], lw=0, zorder=2)
ax.fill_between(gray_se_lon, 25, gray_se_top, step='post', color=legend_colors[9], lw=0, zorder=2)

for line in coast_lines + islands + borders:
    lon, lat = zip(*line)
    ax.plot(lon, lat, color='black', lw=0.9, zorder=3, solid_joinstyle='round')
lon, lat = zip(*western_sahara_north)
ax.plot(lon, lat, color='black', lw=0.9, ls=(0, (3, 4)), zorder=3)

ax.set_xlim(-30, 40)
ax.set_ylim(25, 72)
ax.set_xticks(x_ticks)
ax.set_yticks(y_ticks)
ax.tick_params(direction='in', top=True, right=True, length=5, width=1, labelsize=9.5)
ax.tick_params(axis='x', pad=9)
ax.tick_params(axis='y', pad=6)
for s in ax.spines.values():
    s.set_linewidth(1.2)
ax.set_zorder(2)

fig.text(456 / 960, 1 - 19 / 720, 'JOS25-47 Scen:Baseline', ha='center', va='center', fontsize=13.8)
fig.text(456 / 960, 1 - 42 / 720, 'APV1 Availability Map', ha='center', va='center', fontsize=13.5)
fig.text(456 / 960, 1 - 688 / 720, 'Longitude', ha='center', va='center', fontsize=9.2)
fig.text(51 / 960, 1 - 359 / 720, 'Latitude', ha='center', va='center', rotation=90, fontsize=9.2)

# legend bar
cax = fig.add_axes([835 / 960, 1 - 360 / 720, 33 / 960, 288 / 720])
cells = np.arange(len(legend_colors)).reshape(-1, 1)
cax.pcolormesh(cells, cmap=ListedColormap(legend_colors), vmin=-0.5, vmax=9.5)
cax.set_ylim(len(legend_colors), 0)
cax.set_xticks([])
cax.set_yticks([])
for s in cax.spines.values():
    s.set_linewidth(1.2)
for i, lab in enumerate(legend_labels):
    cax.text(1.15, i + 0.5, lab, transform=cax.get_yaxis_transform(), va='center', ha='left', fontsize=8.3)
fig.text(835 / 960, 1 - 61 / 720, 'Availability (%)', ha='left', va='center', fontsize=10)

fig.savefig('out.png', dpi=100)
